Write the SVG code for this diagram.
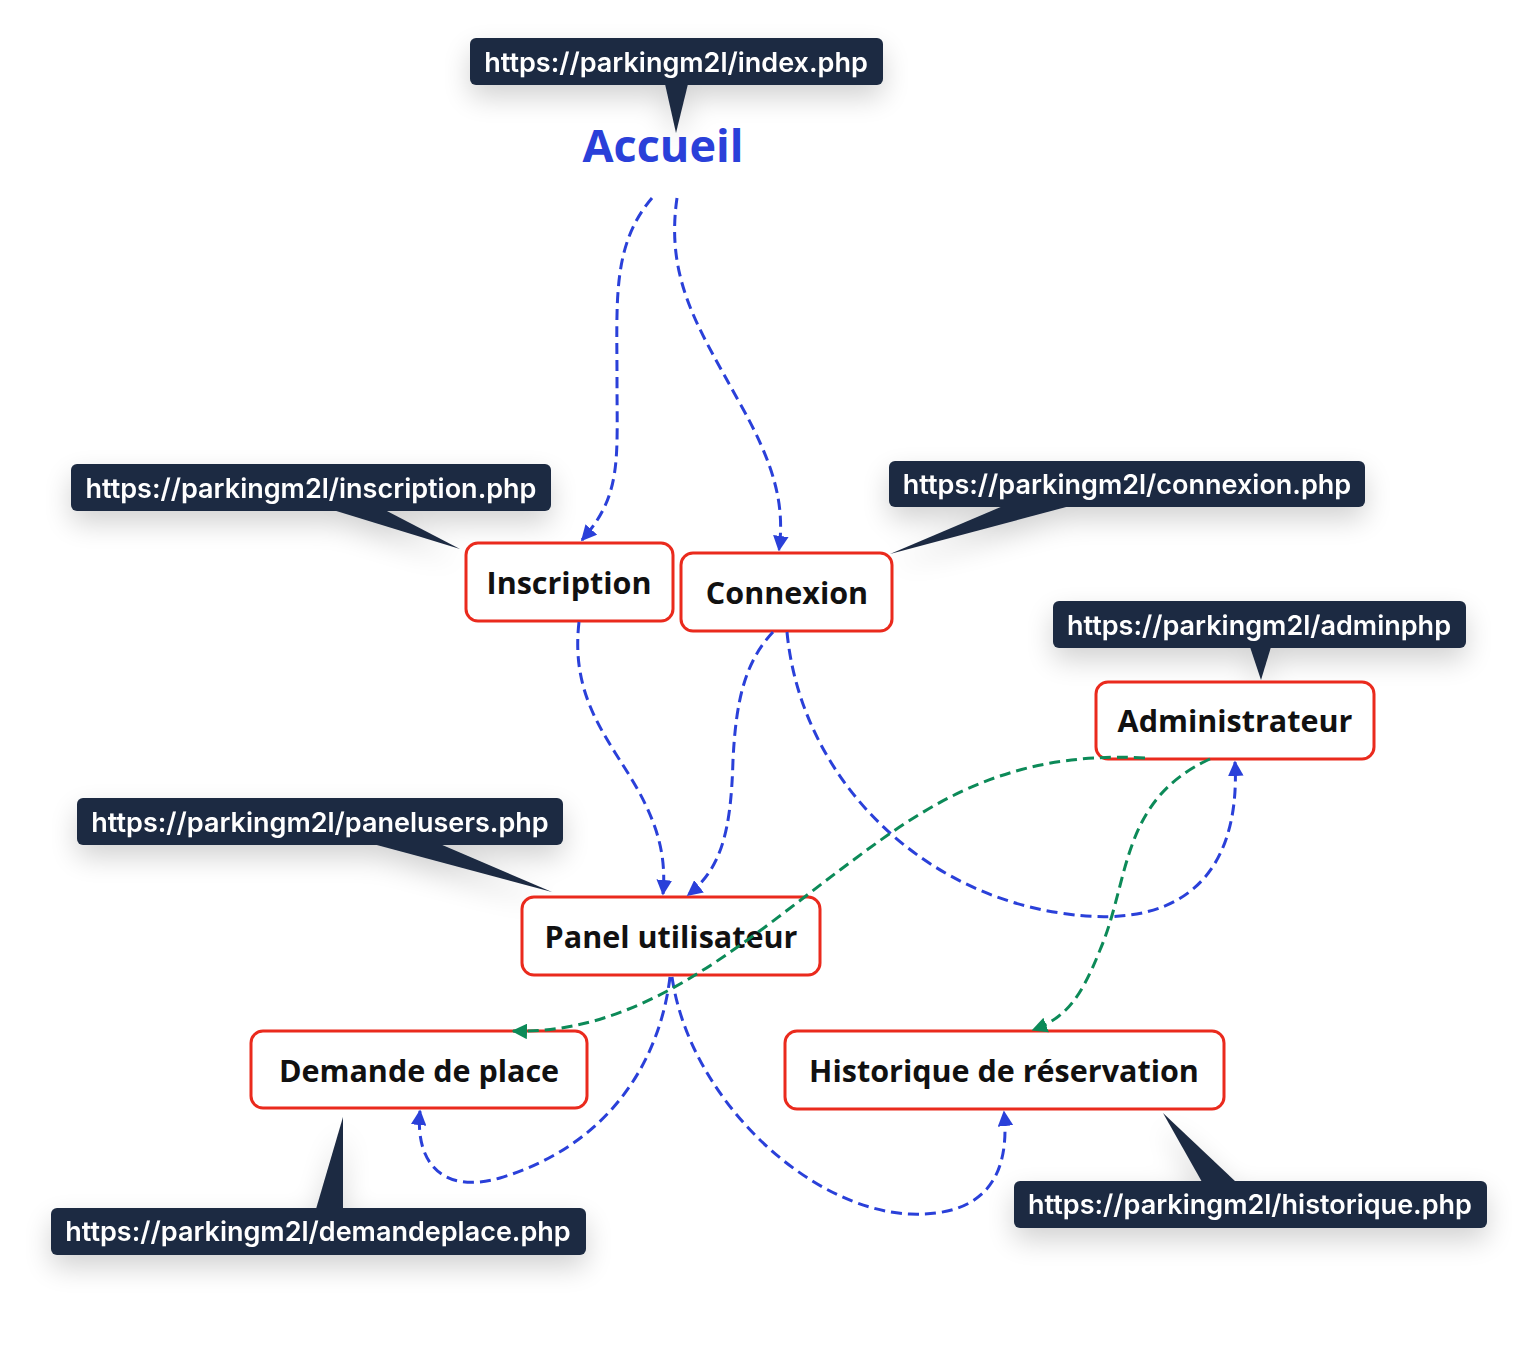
<svg xmlns="http://www.w3.org/2000/svg" width="1518" height="1372" viewBox="0 0 1518 1372">
<defs>
<style>
.tip rect{fill:#1e2b42}
.tip path{fill:#1e2b42}
.tip text{fill:#ffffff;font-family:Inter,"Liberation Sans",sans-serif;font-size:27px;font-weight:600;text-anchor:middle}
.node rect{fill:#ffffff;stroke:#ea2a1d;stroke-width:3}
.node text{fill:#111111;font-family:"Open Sans","Liberation Sans",sans-serif;font-size:30.5px;font-weight:700;text-anchor:middle}
.cb{fill:none;stroke:#2a40d9;stroke-width:3;stroke-dasharray:11 6}
.cg{fill:none;stroke:#0c8a58;stroke-width:3;stroke-dasharray:11 6}
</style>
<filter id="sh" x="-30%" y="-60%" width="160%" height="260%">
<feGaussianBlur in="SourceAlpha" stdDeviation="14"/>
<feOffset dy="12" result="b"/>
<feComponentTransfer><feFuncA type="linear" slope="0.18"/></feComponentTransfer>
<feMerge><feMergeNode/><feMergeNode in="SourceGraphic"/></feMerge>
</filter>
<marker id="ab" viewBox="0 0 10 10" refX="9" refY="5" markerWidth="5.2" markerHeight="5.2" orient="auto" markerUnits="strokeWidth">
<path d="M0,0 L10,5 L0,10 z" fill="#2a40d9"/>
</marker>
<marker id="ag" viewBox="0 0 10 10" refX="9" refY="5" markerWidth="5.2" markerHeight="5.2" orient="auto" markerUnits="strokeWidth">
<path d="M0,0 L10,5 L0,10 z" fill="#0c8a58"/>
</marker>
</defs>
<rect width="1518" height="1372" fill="#ffffff"/>

<g id="tooltips">
<g id="tip-index" class="tip" filter="url(#sh)">
<rect x="470" y="38" width="413" height="47" rx="6"/>
<path d="M665,84 L688,84 L676,133 z"/>
<text x="676" y="72">https://parkingm2l/index.php</text>
</g>
<g id="tip-inscription" class="tip" filter="url(#sh)">
<rect x="71" y="464" width="480" height="47" rx="6"/>
<path d="M333,510 L385,510 L460,549 z"/>
<text x="311" y="498">https://parkingm2l/inscription.php</text>
</g>
<g id="tip-connexion" class="tip" filter="url(#sh)">
<rect x="889" y="461" width="476" height="46" rx="6"/>
<path d="M1003,506 L1070,506 L890,554 z"/>
<text x="1127" y="494">https://parkingm2l/connexion.php</text>
</g>
<g id="tip-admin" class="tip" filter="url(#sh)">
<rect x="1053" y="601" width="413" height="47" rx="6"/>
<path d="M1250,647 L1271,647 L1261,680 z"/>
<text x="1259" y="635">https://parkingm2l/adminphp</text>
</g>
<g id="tip-panel" class="tip" filter="url(#sh)">
<rect x="77" y="798" width="486" height="47" rx="6"/>
<path d="M373,844 L440,844 L552,892 z"/>
<text x="320" y="832">https://parkingm2l/panelusers.php</text>
</g>
<g id="tip-demande" class="tip" filter="url(#sh)">
<rect x="51" y="1208" width="535" height="47" rx="6"/>
<path d="M316,1209 L343,1209 L343,1117 z"/>
<text x="318" y="1241">https://parkingm2l/demandeplace.php</text>
</g>
<g id="tip-historique" class="tip" filter="url(#sh)">
<rect x="1014" y="1181" width="473" height="47" rx="6"/>
<path d="M1202,1182 L1236,1182 L1163,1113 z"/>
<text x="1250" y="1214">https://parkingm2l/historique.php</text>
</g>
</g>

<g id="node-accueil">
<text x="663" y="162" font-family="'Open Sans','Liberation Sans',sans-serif" font-size="45" font-weight="700" fill="#2a40d9" text-anchor="middle">Accueil</text>
</g>
<g id="node-inscription" class="node">
<rect x="466" y="543" width="207" height="78" rx="12"/>
<text x="569" y="594">Inscription</text>
</g>
<g id="node-connexion" class="node">
<rect x="681" y="553" width="211" height="78" rx="12"/>
<text x="787" y="604">Connexion</text>
</g>
<g id="node-admin" class="node">
<rect x="1096" y="682" width="278" height="77" rx="12"/>
<text x="1235" y="732">Administrateur</text>
</g>
<g id="node-panel" class="node">
<rect x="522" y="897" width="298" height="78" rx="12"/>
<text x="671" y="948">Panel utilisateur</text>
</g>
<g id="node-demande" class="node">
<rect x="251" y="1031" width="336" height="77" rx="12"/>
<text x="419" y="1082">Demande de place</text>
</g>
<g id="node-historique" class="node">
<rect x="785" y="1031" width="439" height="78" rx="12"/>
<text x="1004" y="1082">Historique de réservation</text>
</g>

<g id="connectors">
<path class="cb" d="M652,198 C612,245 617,300 617,380 C617,460 622,495 582,540" marker-end="url(#ab)"/>
<path class="cb" d="M677,198 C665,280 700,330 738,400 C775,465 785,505 779,550" marker-end="url(#ab)"/>
<path class="cb" d="M579,622 C570,700 610,740 638,790 C660,830 666,860 663,894" marker-end="url(#ab)"/>
<path class="cb" d="M773,632 C745,662 736,700 733,760 C731,830 722,868 688,895" marker-end="url(#ab)"/>
<path class="cb" d="M787,632 C800,770 910,890 1060,913 C1200,935 1240,855 1235,762" marker-end="url(#ab)"/>
<path class="cb" d="M670,977 C660,1060 610,1145 500,1178 C440,1195 415,1160 420,1111" marker-end="url(#ab)"/>
<path class="cb" d="M672,977 C690,1100 810,1210 910,1214 C990,1217 1010,1170 1004,1112" marker-end="url(#ab)"/>
<path class="cg" d="M1145,758 C1000,750 920,810 840,870 C740,945 640,1035 513,1031" marker-end="url(#ag)"/>
<path class="cg" d="M1210,759 C1120,800 1130,880 1100,950 C1080,1000 1065,1018 1033,1030" marker-end="url(#ag)"/>
</g>
</svg>
